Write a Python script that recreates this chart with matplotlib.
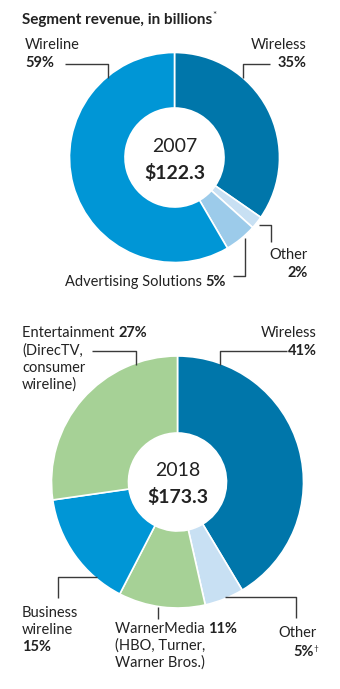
import matplotlib.pyplot as plt

# Segment shares, clockwise from 12 o'clock
labels_2007 = ['Wireless', 'Other', 'Advertising Solutions', 'Wireline']
shares_2007 = [35, 2, 5, 59]
total_2007 = 122.3

labels_2018 = ['Wireless', 'Other', 'WarnerMedia', 'Business wireline', 'Entertainment']
shares_2018 = [41, 5, 11, 15, 27]
total_2018 = 173.3

DARK = '#0076aa'
MID = '#0096d6'
LIGHT = '#9ccbea'
PALE = '#c8e0f3'
GREEN = '#a6d196'
INK = '#222222'
LINE = '#3a3a3a'

colors_2007 = [DARK, PALE, LIGHT, MID]
colors_2018 = [DARK, PALE, GREEN, MID, GREEN]

W, H = 340, 689
plt.rcParams['font.family'] = ['Lato', 'DejaVu Sans']

fig = plt.figure(figsize=(W / 100, H / 100), dpi=100)
ax = fig.add_axes([0, 0, 1, 1])


def Y(py):
    # work in pixel rows measured from the top
    return H - py


def donut(values, colors, cx, cy, r_out, r_in):
    ax.pie(values, colors=colors, startangle=90, counterclock=False,
           center=(cx, Y(cy)), radius=r_out,
           wedgeprops=dict(width=r_out - r_in, edgecolor='white', linewidth=1.2))


def leader(pts):
    xs = [p[0] for p in pts]
    ys = [Y(p[1]) for p in pts]
    ax.plot(xs, ys, color=LINE, lw=1.0, solid_capstyle='butt')


renderer = fig.canvas.get_renderer()


def rich(x, py, parts, size=10.5):
    # left-aligned run of (text, weight) pieces on one line;
    # axes span the figure 1:1 so pixel widths equal data widths
    for txt, wt in parts:
        t = ax.text(x, Y(py), txt, fontsize=size, fontweight=wt, color=INK,
                    ha='left', va='center')
        bb = t.get_window_extent(renderer=renderer)
        x += bb.width
    return x


def label(x, py, txt, wt='normal', ha='left', size=10.5):
    return ax.text(x, Y(py), txt, fontsize=size, fontweight=wt, color=INK,
                   ha=ha, va='center')


# 2007 ring
donut(shares_2007, colors_2007, 174.5, 157.5, 105, 49.5)
# 2018 ring
donut(shares_2018, colors_2018, 177.5, 482, 126, 49)

ax.set_xlim(0, W)
ax.set_ylim(0, H)
ax.set_aspect('auto')
ax.axis('off')

ax.text(174.5, Y(146), '2007', fontsize=14, fontweight='normal', color=INK,
        ha='center', va='center')
ax.text(174.5, Y(173), f'${total_2007}', fontsize=14, fontweight='bold',
        color=INK, ha='center', va='center')

label(25, 45, labels_2007[3])
label(25, 63, f'{shares_2007[3]}%', 'bold')
leader([(65, 64), (108, 64), (108, 78)])

label(307, 45, labels_2007[0], ha='right')
label(307, 63, f'{shares_2007[0]}%', 'bold', ha='right')
leader([(270, 64), (243, 64), (243, 78)])

label(308, 255, labels_2007[1], ha='right')
label(308, 273, f'{shares_2007[1]}%', 'bold', ha='right')
leader([(259, 225), (271, 225), (271, 242)])

rich(65, 282, [(labels_2007[2] + ' ', 'normal'), (f'{shares_2007[2]}%', 'bold')])
leader([(233, 276), (245, 276), (245, 238)])

ax.text(177.5, Y(470), '2018', fontsize=14, fontweight='normal', color=INK,
        ha='center', va='center')
ax.text(177.5, Y(497), f'${total_2018}', fontsize=14, fontweight='bold',
        color=INK, ha='center', va='center')

rich(22, 333, [(labels_2018[4] + ' ', 'normal'), (f'{shares_2018[4]}%', 'bold')])
label(22, 351, '(DirecTV,')
label(22, 368, 'consumer')
label(22, 385, 'wireline)')
leader([(92, 351), (136, 351), (136, 365)])

label(317, 333, labels_2018[0], ha='right')
label(317, 351, f'{shares_2018[0]}%', 'bold', ha='right')
leader([(287, 351), (220, 351), (220, 365)])

label(22, 613, 'Business')
label(22, 630, 'wireline')
label(22, 647, f'{shares_2018[3]}%', 'bold')
leader([(58, 598), (58, 577), (97, 577)])

rich(115, 629, [(labels_2018[2] + ' ', 'normal'), (f'{shares_2018[2]}%', 'bold')])
label(115, 646, '(HBO, Turner,')
label(115, 663, 'Warner Bros.)')
leader([(158, 607), (158, 619)])

label(317, 633, labels_2018[1], ha='right')
label(314, 652, f'{shares_2018[1]}%', 'bold', ha='right')
label(313.5, 648, '†', size=6, ha='left')
leader([(225, 597), (296, 597), (296, 618)])

# heading
end = rich(22, 20, [('Segment revenue, in billions', 'bold')], size=11)
label(end, 16, '*', size=7)

fig.savefig('out.png', dpi=100, facecolor='white')
